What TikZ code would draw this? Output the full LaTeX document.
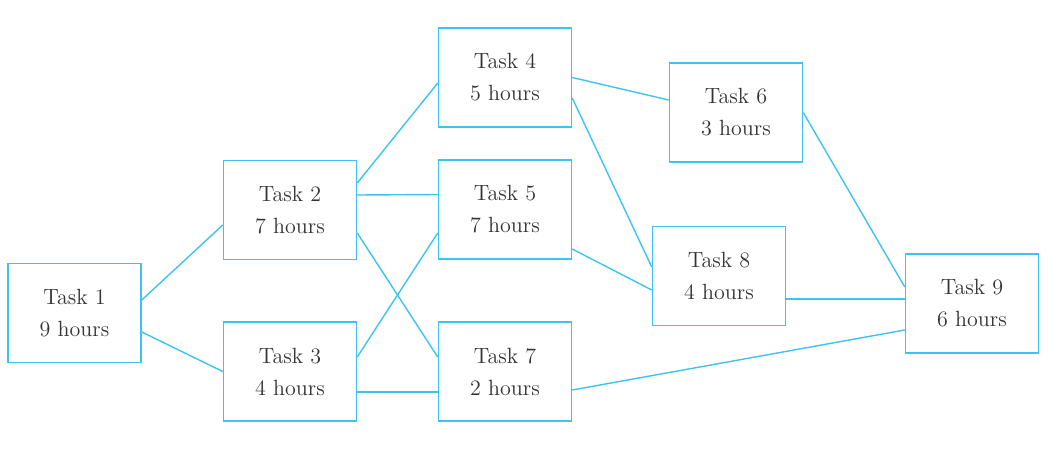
\documentclass[tikz,border=0pt]{standalone}
\usepackage{tikz}
\usetikzlibrary{positioning}
\definecolor{linkblue}{HTML}{3EC3F0}
\definecolor{textgray}{HTML}{333333}

\begin{document}
\begin{tikzpicture}
[x=0.5pt, y=-0.5pt,
% STYLES
% The task style is used to draw each task with its duration
task/.style={rectangle, draw=linkblue, line width=0.75pt, fill=white, minimum width=66.5pt, minimum height=49.5pt, inner sep=0pt, align=center, text=textgray, font=\fontsize{11}{16}\selectfont},
% The link style is used to draw the dependencies
link/.style={draw=linkblue, line width=0.7pt}]

\useasboundingbox (0,0) rectangle (1057,451);

% Draw tasks
\node [task] (task1) at (74.5,313) {Task 1\\9 hours};
\node [task] (task2) at (290,210) {Task 2\\7 hours};
\node [task] (task3) at (290,371.5) {Task 3\\4 hours};
\node [task] (task4) at (505,77.5) {Task 4\\5 hours};
\node [task] (task5) at (505,209.5) {Task 5\\7 hours};
\node [task] (task7) at (505,371.5) {Task 7\\2 hours};
\node [task] (task6) at (736,112.5) {Task 6\\3 hours};
\node [task] (task8) at (719,276) {Task 8\\4 hours};
\node [task] (task9) at (972,303.5) {Task 9\\6 hours};

% Draw the links between tasks
\path[link]
([yshift=6.5pt]task1.east) edge ([yshift=-7.5pt]task2.west)
([yshift=-9.5pt]task1.east) edge (task3.west)
([yshift=13.5pt]task2.east) edge ([yshift=-2.75pt]task4.west)
([yshift=7.5pt]task2.east) edge ([yshift=7.5pt]task5.west)
([yshift=-11.5pt]task2.east) edge ([yshift=7.25pt]task7.west)
([yshift=7.25pt]task3.east) edge ([yshift=-11.75pt]task5.west)
([yshift=-10.25pt]task3.east) edge ([yshift=-10.25pt]task7.west)
(task4.east) edge ([yshift=6.25pt]task6.west)
([yshift=-10.25pt]task4.east) edge ([yshift=4.5pt]task8.west)
([yshift=-19.75pt]task5.east) edge ([yshift=-7pt]task8.west)
(task6.east) edge ([yshift=8.25pt]task9.west)
([yshift=-11.5pt]task8.east) edge ([yshift=2.25pt]task9.west)
([yshift=-9.25pt]task7.east) edge ([yshift=-13.25pt]task9.west);

\end{tikzpicture}
\end{document}
